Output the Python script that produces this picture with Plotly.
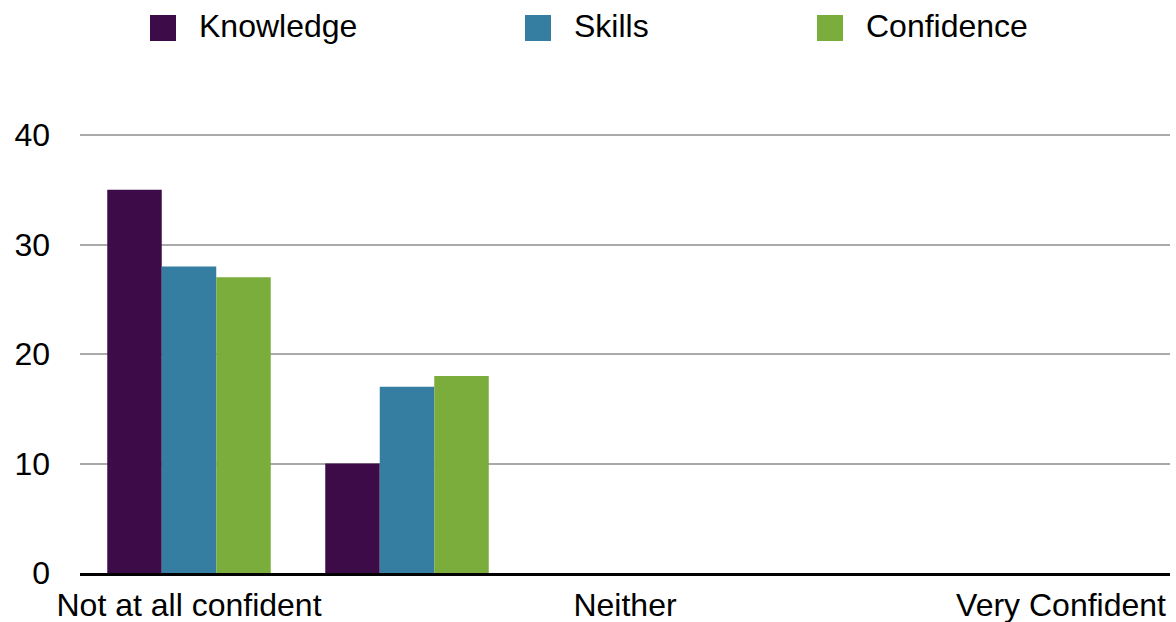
import plotly.graph_objects as go

categories = ["Not at all confident", "", "Neither", "", "Very Confident"]
series_names = ["Knowledge", "Skills", "Confidence"]
knowledge = [35, 10, 0, 0, 0]
skills = [28, 17, 0, 0, 0]
confidence = [27, 18, 0, 0, 0]
colors = ["#3D0C48", "#357EA2", "#7AAD3B"]
y_ticks = [0, 10, 20, 30, 40]

FONT = "Liberation Sans, Arial, Helvetica, sans-serif"
FS = 32
W, H = 1176, 622
L, R, T, B = 80, 6, 132, 49
pw, ph = W - L - R, H - T - B
y_max = 40 * ph / 438.0

x_pos = list(range(len(categories)))
fig = go.Figure()
for name, vals, c in zip(series_names, [knowledge, skills, confidence], colors):
    fig.add_trace(go.Bar(x=x_pos, y=vals, name=name, marker=dict(color=c, line=dict(width=0)),
                         showlegend=False))

# manual legend (large square swatches)
legend_x = [150, 525, 817]
for name, c, px in zip(series_names, colors, legend_x):
    x0 = (px - L) / pw
    x1 = (px + 26 - L) / pw
    y0 = (H - B - 41) / ph
    y1 = (H - B - 15) / ph
    fig.add_shape(type="rect", xref="paper", yref="paper", x0=x0, x1=x1, y0=y0, y1=y1,
                  fillcolor=c, line=dict(width=0), layer="above")
    fig.add_annotation(xref="paper", yref="paper", x=(px + 47 - L) / pw, y=(H - B - 26) / ph,
                       text=name, showarrow=False, xanchor="left", yanchor="middle",
                       font=dict(family=FONT, size=FS, color="#000000"))

fig.update_layout(
    width=W, height=H,
    margin=dict(l=L, r=R, t=T, b=B, autoexpand=False),
    paper_bgcolor="white", plot_bgcolor="white",
    barmode="group", bargap=0.25, bargroupgap=0,
    font=dict(family=FONT, size=FS, color="#000000"),
    xaxis=dict(range=[-0.5, len(categories) - 0.5], tickmode="array", tickvals=x_pos,
               ticktext=categories, showgrid=False, zeroline=False, showline=True,
               linecolor="#000000", linewidth=2.5, ticks="", tickfont=dict(size=FS),
               ticklabelstandoff=2, automargin=False),
    yaxis=dict(range=[0, y_max], tickmode="array", tickvals=y_ticks, showgrid=True,
               gridcolor="#AAAAAA", gridwidth=2, zeroline=False, showline=False,
               ticks="", ticklabelstandoff=29, tickfont=dict(size=FS), automargin=False),
)
fig.write_html("out.html")
